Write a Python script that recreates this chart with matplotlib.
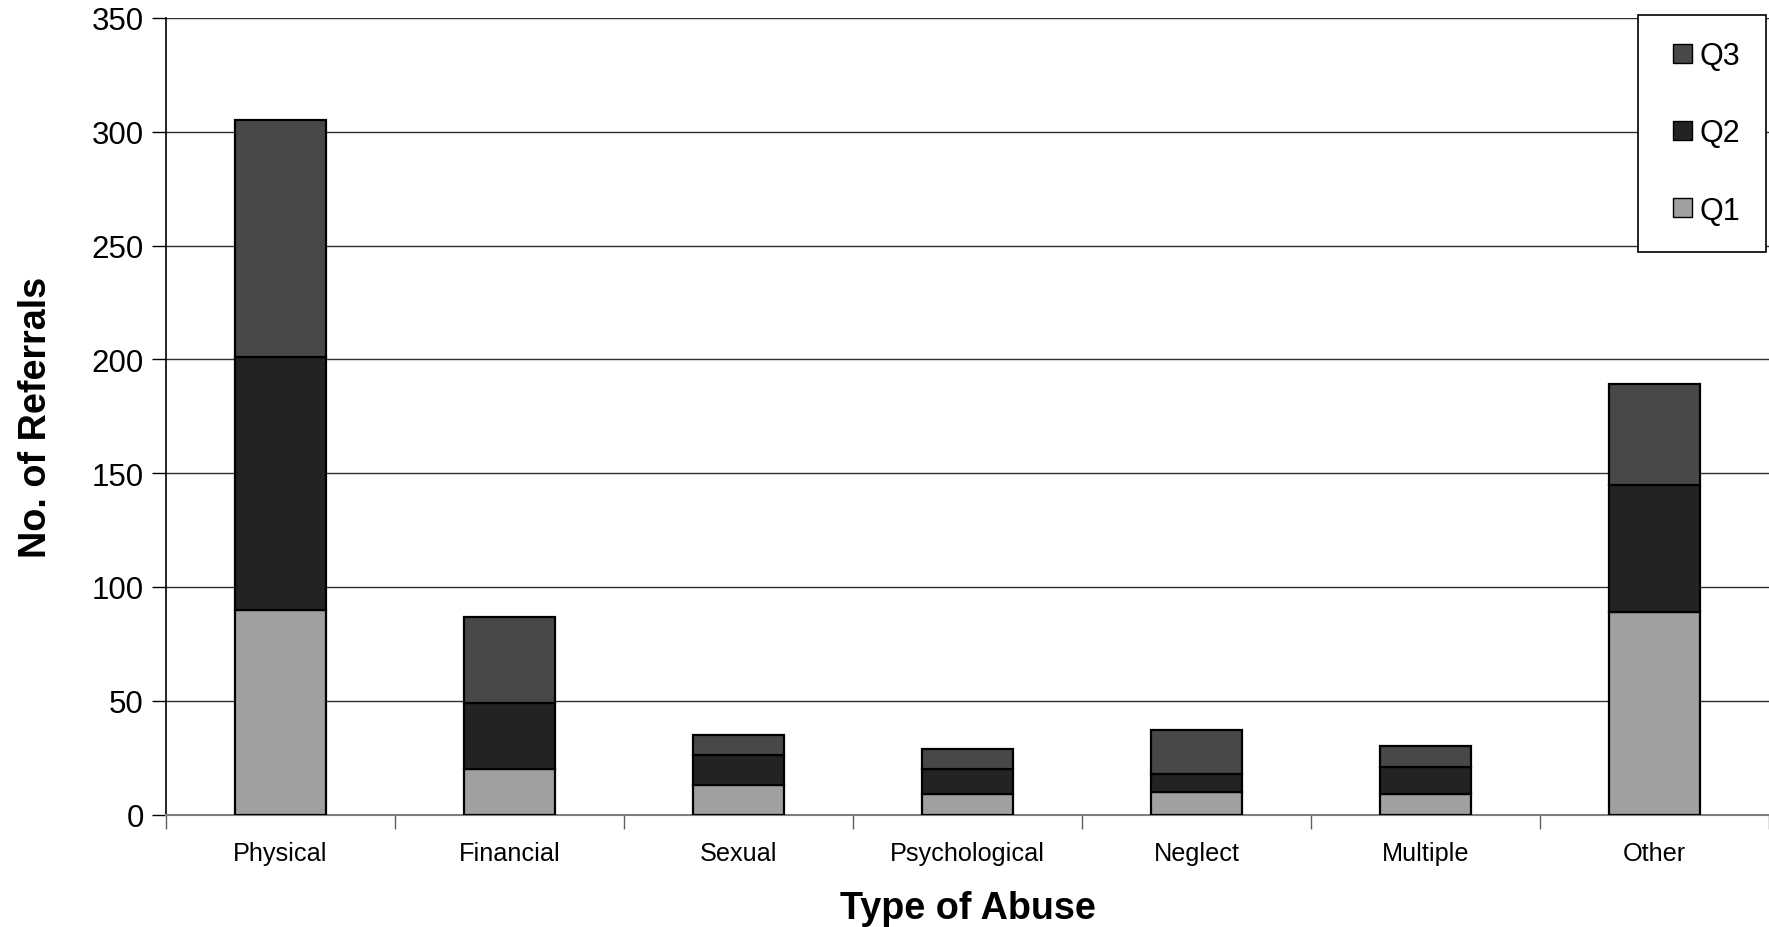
import numpy as np
import matplotlib
matplotlib.use("Agg")
import matplotlib.pyplot as plt
from matplotlib.patches import Rectangle
from matplotlib.container import BarContainer
from matplotlib.legend_handler import HandlerPatch, update_from_first_child

plt.rcParams["font.family"] = ["Liberation Sans", "DejaVu Sans"]

# Data
categories = ["Physical", "Financial", "Sexual", "Psychological", "Neglect", "Multiple", "Other"]
q1 = [90, 20, 13, 9, 10, 9, 89]
q2 = [111, 29, 13, 11, 8, 12, 56]
q3 = [104, 38, 9, 9, 19, 9, 44]

colors = {"Q1": "#A0A0A0", "Q2": "#232323", "Q3": "#484848"}

fig = plt.figure(figsize=(17.69, 9.28), dpi=100)
ax = fig.add_axes([166 / 1769, 112.5 / 928, 1 - 166 / 1769, (815.5 - 19) / 928])

x = np.arange(len(categories))
w = 0.4
q1a, q2a = np.array(q1), np.array(q2)
b1 = ax.bar(x, q1, w, color=colors["Q1"], edgecolor="black", linewidth=1.6, label="Q1", zorder=3)
b2 = ax.bar(x, q2, w, bottom=q1a, color=colors["Q2"], edgecolor="black", linewidth=1.6, label="Q2", zorder=3)
b3 = ax.bar(x, q3, w, bottom=q1a + q2a, color=colors["Q3"], edgecolor="black", linewidth=1.6, label="Q3", zorder=3)

ax.set_xlim(-0.5, len(categories) - 0.5)
ax.set_ylim(0, 350)
ax.set_yticks(range(0, 351, 50))
ax.yaxis.grid(True, color="#303030", linewidth=1.0, zorder=0)
ax.set_axisbelow(True)

ax.set_xticks(x)
ax.set_xticklabels(categories, fontsize=18.2)
ax.set_xticks(np.arange(-0.5, len(categories), 1.0), minor=True)
ax.tick_params(axis="x", which="major", length=0, pad=19)
ax.tick_params(axis="x", which="minor", length=10, color="#606060", width=1)
ax.tick_params(axis="y", labelsize=22.5, length=10, width=1, pad=6)

for s in ["top", "right"]:
    ax.spines[s].set_visible(False)
ax.spines["left"].set_color("black")
ax.spines["left"].set_linewidth(1.2)
ax.spines["bottom"].set_color("#808080")
ax.spines["bottom"].set_linewidth(1.5)

ax.set_xlabel("Type of Abuse", fontsize=27.2, fontweight="bold", labelpad=18)
ax.set_ylabel("No. of Referrals", fontsize=27.2, fontweight="bold", labelpad=27)


# square legend key sitting at the right of its handle box
def square_key(legend, orig_handle, xdescent, ydescent, width, height, fontsize):
    s = height
    return Rectangle((width - s - xdescent, -ydescent), s, s)


leg = fig.legend([b3, b2, b1], ["Q3", "Q2", "Q1"], loc="upper left",
                 bbox_to_anchor=(1638 / 1769, 1 - 16 / 928), borderaxespad=0,
                 fontsize=22, frameon=True, fancybox=False, edgecolor="black",
                 framealpha=1, handlelength=0.92, handleheight=0.58,
                 handletextpad=0.25, labelspacing=1.55, borderpad=0.85,
                 handler_map={BarContainer: HandlerPatch(patch_func=square_key,
                                                         update_func=update_from_first_child)})
leg.get_frame().set_linewidth(1.2)
for h in leg.legend_handles:
    h.set_linewidth(1.0)

fig.savefig("out.png", dpi=100)
